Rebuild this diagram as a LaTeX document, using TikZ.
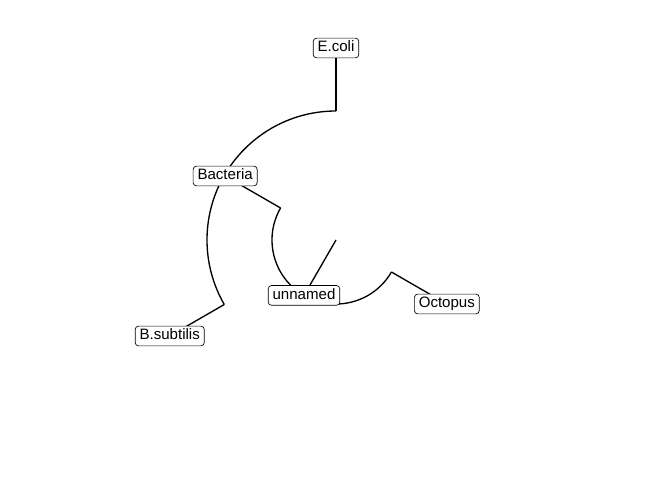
\documentclass[tikz,border=0pt]{standalone}
\usepackage{fontspec}
\setmainfont{Liberation Sans}
\begin{document}
\begin{tikzpicture}[x=0.75pt,y=0.75pt,
  branch/.style={line width=1pt,black},
  lab/.style={draw=black,line width=0.5pt,fill=white,rounded corners=2.5pt,
    font=\fontsize{11.3pt}{13pt}\selectfont,inner xsep=3.3pt,inner ysep=2.2pt,
    text height=8pt,text depth=2.4pt}]
\useasboundingbox (0,0) rectangle (672,480);
\coordinate (C) at (336,240);
% node positions
\path (C) ++(240:64) coordinate (un);
\path (C) ++(150:64) coordinate (ub);
\path (C) ++(330:64) coordinate (uo);
\path (C) ++(150:128) coordinate (ba);
\path (C) ++(330:128) coordinate (oc);
\path (C) ++(90:129) coordinate (be);
\path (C) ++(210:129) coordinate (bb);
\path (C) ++(90:192) coordinate (ec);
\path (C) ++(210:192) coordinate (bs);
% branches
\draw[branch] (C) -- (un);
\draw[branch] (ub) arc[start angle=150,end angle=330,radius=64];
\draw[branch] (ub) -- (ba);
\draw[branch] (uo) -- (oc);
\draw[branch] (be) arc[start angle=90,end angle=210,radius=129];
\draw[branch] (be) -- (ec);
\draw[branch] (bb) -- (bs);
% labels
\node[lab] (nun) at (un) {unnamed};
\node[lab] (nba) at (ba) {Bacteria};
\node[lab] (noc) at (oc) {Octopus};
\node[lab] (nec) at (ec) {E.coli};
\node[lab] (nbs) at (bs) {B.subtilis};
\end{tikzpicture}
\end{document}
